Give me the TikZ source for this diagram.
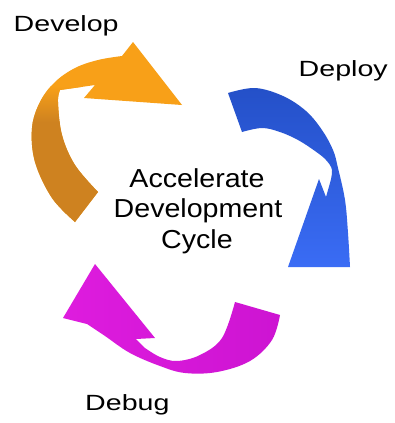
\documentclass[tikz,border=0pt]{standalone}
\usepackage{fontspec}
\newfontfamily\lblfont[FakeStretch=1.3]{Liberation Sans}
\newfontfamily\ctrfont[FakeStretch=1.1]{Liberation Sans}
\definecolor{olight}{RGB}{248,160,24}
\definecolor{odark}{RGB}{206,130,32}
\definecolor{bdark}{RGB}{36,80,200}
\definecolor{blight}{RGB}{58,108,245}
\definecolor{mag}{RGB}{222,28,222}
\definecolor{magd}{RGB}{205,20,210}
\tikzset{
  lbl/.style={font=\lblfont\fontsize{22}{26}\selectfont, inner sep=0pt, anchor=base west},
  ctr/.style={font=\ctrfont\fontsize{26}{30}\selectfont, inner sep=0pt, anchor=base}
}
\begin{document}
\begin{tikzpicture}[x=1pt,y=-1pt]
\useasboundingbox (0,0) rectangle (394,423);
\fill[white] (0,0) rectangle (394,423);
% orange arrow (Develop)
\begin{scope}
\clip (75,222) -- plot[smooth, tension=0.6] coordinates {(75,222) (52,198) (35,162) (32,128) (40,102) (55,82) (75,68) (98,60) (122,56)} -- (133,42) -- (182,105) -- (84,98) -- (95,85) -- (60,90) -- plot[smooth, tension=0.6] coordinates {(60,90) (58,102) (62,135) (75,165) (98,192)} -- cycle;
\fill[olight] (0,0) rectangle (200,230);
\shade[top color=olight, bottom color=odark] (0,86) rectangle (82,122);
\fill[odark] (0,122) rectangle (120,230);
\end{scope}
% blue arrow (Deploy)
\shade[top color=bdark, bottom color=blight] (228,93) -- plot[smooth, tension=0.6] coordinates {(228,93) (255,88) (283,96) (306,111) (322,130) (333,150) (338,168) (345,200) (348,233) (350,267)} -- (288,267) -- (319,179) -- (326,197) -- (330,183) -- plot[smooth, tension=0.6] coordinates {(330,183) (332,170) (326,160) (315,151) (298,140) (280,132) (262,128) (242,132)} -- cycle;
% magenta arrow (Debug)
\shade[left color=mag, right color=magd] (95,264) -- (155,338) -- (136,339) -- (145,348) -- plot[smooth, tension=0.6] coordinates {(145,348) (160,357) (177,361) (200,355) (222,338) (235,302)} -- (280,315) -- plot[smooth, tension=0.6] coordinates {(280,315) (272,340) (250,361) (217,372) (185,373) (160,366) (130,353) (105,336) (87,324)} -- (63,318) -- cycle;
% labels
\node[lbl] (develop) at (13.5,31) {Develop};
\node[lbl] (deploy) at (298.5,76) {Deploy};
\node[lbl] (debug) at (85,410) {Debug};
\node[ctr] (c1) at (197,187) {Accelerate};
\node[ctr] (c2) at (198,217) {Development};
\node[ctr] (c3) at (197,248) {Cycle};
\end{tikzpicture}
\end{document}
